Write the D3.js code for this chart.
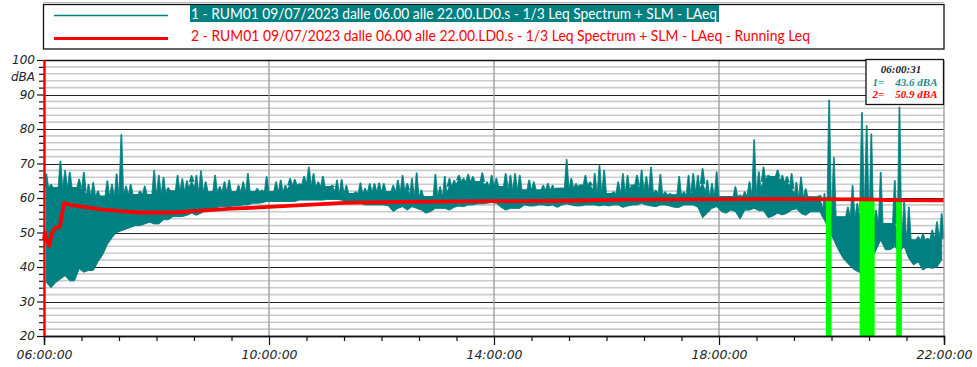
<!DOCTYPE html>
<html><head><meta charset="utf-8">
<script src="https://cdn.jsdelivr.net/npm/d3@7"></script>
<style>
html,body{margin:0;padding:0;background:#fff;}
svg{display:block;}
</style></head>
<body>
<svg id="chart" width="977" height="367"></svg>
<script>
// ---- data ----
// LAeq envelope per 5-minute interval, starting 06:00 (min / max dB(A))
const laeqHi = [
 67,64,63,70.7,68,67.5,63,65.5,67.5,64,64.5,62,60.5,65,64,67,78.4,63.5,64,61,62,63.5,61,68,66.6,66,63,62,66.6,65.6,65,66.5,
 66.6,67.9,64.7,61.8,66.6,63.3,64.7,65.2,61.8,63.7,64.7,67.1,61.8,62.8,62.3,66.2,61.8,64.7,65.2,63.7,65.7,65.4,64.2,66.3,69,67.1,64.7,66.3,63.3,63.7,65.2,65.4,
 63.7,61.3,61.8,64.4,62.8,64.2,64.2,64.4,64.2,61.8,63.7,65.2,66.6,64.2,65.7,67.3,62.3,60.4,60.4,66.9,63.3,66.3,65.7,65.2,66.6,65.7,66.9,66.2,64.7,67.3,64.7,66.6,
 65.7,63.3,67.1,66.6,67.1,66.6,62.3,65.2,64.7,62.3,63.7,64.2,63.7,62.8,62.8,71.2,65.7,64.2,63.7,66.6,64.7,67.1,69.5,68.1,61.3,61.8,64.7,67.1,66.6,63.7,66.6,68.1,
 66.2,69,62.3,66.9,61.8,61.3,60.9,66.3,61.8,66.6,67.1,66.6,68.6,65.2,64.2,67.6,60.4,60.4,60.4,63.3,60.9,61.8,64.7,76.9,67.6,69,66.6,66.2,68.1,66.6,66.2,67.1,
 64.6,66.1,62.7,60.3,60.3,60.8,61.3,88.4,71.8,54.5,54.5,57.4,63.7,58.4,84.8,81,78.6,56.4,67.5,52.6,52.6,65.1,86.4,59.3,57.4,47.8,48.8,49.7,48.3,50.7,53.1,55.5
];
const laeqLo = [
 35.5,34,35.5,36.5,37.5,36,36,39.5,38.5,39,39,41.5,43.5,46.5,48.5,50,50.5,51,51.5,52,52,52.5,53,52.5,52.5,53.7,53.7,54.6,54.6,54.6,55,55.6,
 55,55.6,56.5,57,57,57.5,57.5,57.5,57.7,57.7,58,58,58.5,58.5,58.6,59,59,59,59,59,59,59,59.4,59.4,59.4,59.4,59.4,59.4,59.6,59.6,59.6,59.4,
 58.9,58.9,58.7,58.5,58,58,58,58,58,57.7,56.1,57,57.5,56.5,57.5,57,56.5,55.6,56.1,57,57,57,56.5,57.3,57.7,57.5,58,58,58.3,58.3,58.5,58.7,
 58.5,57.3,56.5,57,57,57,58,57.7,57.7,58,58,57.7,58,57.3,58,58.3,58,57.7,57.7,58,58,58,57.7,58,57.7,58,58,57.3,57.7,58,58,58.5,
 58,57.7,57.5,58,58,57.7,57.3,57.3,58,58,58,57.3,54.3,55.6,57,57.5,56.1,55.6,56.5,56.1,53.9,56.5,56.5,57,56.3,56.3,54.3,54.8,55.6,55.1,55.6,56.5,
 56.9,55.5,55,56,56,56,53.6,50.7,47.8,44.9,42.5,41,39.6,38.7,38.2,39.1,42,44.9,47.8,45,45,45.9,44.4,45.9,42.5,40.6,41.5,39.1,40,39.6,40,42
];
const intervalMin = 5;

// Running Leq (minutes after 06:00, dB(A))
const runTime = [0,1,3,5.7,8,11.7,17,19,21.3,28,42,60,85,100,140,160,200,240,280,320,380,480,560,620,700,800,880,900,960];
const runLeq  = [48,50,47.5,46.2,49.5,51.3,51.6,55,58.5,58.0,57.4,56.7,56.1,55.8,55.8,56.2,56.9,57.4,58.0,58.6,58.9,59.1,59.2,59.5,59.6,59.7,59.6,59.4,59.3];

// Excluded (masked) periods, minutes after 06:00
const maskStart = [834, 870, 909];
const maskEnd   = [840, 886, 915];

// Axis ticks
const xMajorMin = [0,240,480,720,960];
const xMajorLabels = ["06:00:00","10:00:00","14:00:00","18:00:00","22:00:00"];
const yMajor = [20,30,40,50,60,70,80,90,100];
const yUnit = "dBA";

// Legend / cursor texts
const seriesNames = [
 "1 - RUM01 09/07/2023 dalle 06.00 alle 22.00.LD0.s - 1/3 Leq Spectrum + SLM - LAeq",
 "2 - RUM01 09/07/2023 dalle 06.00 alle 22.00.LD0.s - 1/3 Leq Spectrum + SLM - LAeq - Running Leq"
];
const cursorTime = "06:00:31";
const cursorMin = 31/60;
const cursorVals = ["43.6 dBA","50.9 dBA"];

// ---- drawing ----
const TEAL = "#008080", RED = "#ff0000", GREEN = "#00ff00";
const svg = d3.select("#chart");
const x = d3.scaleLinear().domain([0,960]).range([44,944]);
const y = d3.scaleLinear().domain([20,100]).range([336,60]);

// legend
const lg = svg.append("g");
lg.append("line").attr("x1",43).attr("x2",944).attr("y1",2.5).attr("y2",2.5).attr("stroke","#bbb");
lg.append("rect").attr("x",43.5).attr("y",4.5).attr("width",900.5).attr("height",44.5)
  .attr("fill","#fff").attr("stroke","#111").attr("stroke-width",1.3);
lg.append("line").attr("x1",54).attr("x2",168).attr("y1",15.5).attr("y2",15.5).attr("stroke",TEAL).attr("stroke-width",1.5);
lg.append("line").attr("x1",54).attr("x2",168).attr("y1",38.5).attr("y2",38.5).attr("stroke",RED).attr("stroke-width",3.2);
lg.append("rect").attr("x",190).attr("y",5).attr("width",529).attr("height",17).attr("fill",TEAL);
lg.append("text").attr("x",191).attr("y",18.5).text(seriesNames[0])
  .attr("font-family","Lato, 'Open Sans', sans-serif").attr("font-size",14.5).attr("fill","#fff")
  .attr("textLength",526).attr("lengthAdjust","spacingAndGlyphs");
lg.append("text").attr("x",191).attr("y",40.5).text(seriesNames[1])
  .attr("font-family","Lato, 'Open Sans', sans-serif").attr("font-size",14.5).attr("fill",RED)
  .attr("textLength",619).attr("lengthAdjust","spacingAndGlyphs");

// gridlines
const g = svg.append("g");
const yMinor = d3.range(22,100,2).filter(v=>v%10!==0);
g.selectAll(".ymin").data(yMinor).join("line")
  .attr("x1",x(0)).attr("x2",x(960)).attr("y1",d=>y(d)).attr("y2",d=>y(d))
  .attr("stroke","#cbcbcb").attr("stroke-width",1.6);
g.selectAll(".ymaj").data(yMajor.filter(v=>v>20&&v<100)).join("line")
  .attr("x1",x(0)).attr("x2",x(960)).attr("y1",d=>Math.round(y(d))+0.5).attr("y2",d=>Math.round(y(d))+0.5)
  .attr("stroke","#222").attr("stroke-width",1.1);
g.selectAll(".xg").data(xMajorMin.slice(1,-1)).join("line")
  .attr("x1",d=>x(d)).attr("x2",d=>x(d)).attr("y1",y(100)).attr("y2",y(20))
  .attr("stroke","#9a9a9a").attr("stroke-width",1.3);

// LAeq series: dense body (lo .. lowest max in a 7-interval window) plus a spike per interval (up to max)
const n = laeqHi.length;
const pts = laeqHi.map((h,i)=>{
  const w = laeqHi.slice(Math.max(0,i-3), Math.min(n,i+4));
  return {t:i*intervalMin+intervalMin/2, hi:h, lo:laeqLo[i], body:Math.max(laeqLo[i], Math.min(...w))};
});
const area = d3.area().x(d=>x(d.t)).y0(d=>y(d.lo)).y1(d=>y(d.body));
svg.append("path").datum(pts).attr("d",area).attr("fill",TEAL).attr("stroke",TEAL).attr("stroke-width",1);
svg.append("path")
  .attr("d",pts.map(d=>`M${x(d.t)-2.3},${y(d.body)}L${x(d.t)-0.4},${y(d.hi)}L${x(d.t)+0.4},${y(d.hi)}L${x(d.t)+2.3},${y(d.body)}Z`).join(""))
  .attr("fill",TEAL).attr("stroke",TEAL).attr("stroke-width",0.8).attr("stroke-linejoin","round");

// masked periods
const clipTop = t => d3.scaleLinear().domain(runTime).range(runLeq)(t);
svg.selectAll(".mask").data(maskStart).join("rect")
  .attr("x",(d)=>x(d)).attr("width",(d,i)=>x(maskEnd[i])-x(d))
  .attr("y",(d,i)=>y(clipTop((d+maskEnd[i])/2)))
  .attr("height",(d,i)=>y(20)-y(clipTop((d+maskEnd[i])/2)))
  .attr("fill",GREEN);

// running Leq
const run = runTime.map((t,i)=>({t, v:runLeq[i]}));
svg.append("path").datum(run)
  .attr("d",d3.line().x(d=>x(d.t)).y(d=>y(d.v)))
  .attr("fill","none").attr("stroke",RED).attr("stroke-width",3.8).attr("stroke-linejoin","round");

// frame
svg.append("line").attr("x1",x(0)).attr("x2",x(960)).attr("y1",y(100)+0.5).attr("y2",y(100)+0.5).attr("stroke","#111").attr("stroke-width",1.3);
svg.append("line").attr("x1",x(960)).attr("x2",x(960)).attr("y1",y(100)).attr("y2",y(20)).attr("stroke","#999").attr("stroke-width",1.3);

// axes
const fontAx = "'DejaVu Sans', Verdana, sans-serif";
const xMinor = d3.range(40,960,40).filter(v=>v%240!==0);
const xMinAx = svg.append("g").attr("transform",`translate(0,${y(20)})`)
  .call(d3.axisBottom(x).tickValues(xMinor).tickSize(5).tickFormat(""));
const xMajAx = svg.append("g").attr("transform",`translate(0,${y(20)})`)
  .call(d3.axisBottom(x).tickValues(xMajorMin).tickSize(9).tickPadding(5).tickFormat((d,i)=>xMajorLabels[i]));
[xMinAx,xMajAx].forEach(a=>{a.select(".domain").attr("stroke","#111").attr("stroke-width",1.3);
  a.selectAll(".tick line").attr("stroke","#111").attr("stroke-width",1.2);});
xMajAx.selectAll("text").attr("font-family",fontAx).attr("font-style","italic").attr("font-size",12.5).attr("fill","#222");

const yMinAx = svg.append("g").attr("transform",`translate(${x(0)},0)`)
  .call(d3.axisLeft(y).tickValues(d3.range(22,100,2).filter(v=>v%10!==0)).tickSize(5).tickFormat(""));
const yMajAx = svg.append("g").attr("transform",`translate(${x(0)},0)`)
  .call(d3.axisLeft(y).tickValues(yMajor).tickSize(7).tickPadding(2));
[yMinAx,yMajAx].forEach(a=>{a.select(".domain").remove();
  a.selectAll(".tick line").attr("stroke","#111").attr("stroke-width",1.2);});
yMajAx.selectAll("text").attr("font-family",fontAx).attr("font-style","italic").attr("font-size",12).attr("fill","#222");
svg.append("text").attr("x",35).attr("y",y(95)).attr("dy","0.35em").attr("text-anchor","end")
  .attr("font-family",fontAx).attr("font-style","italic").attr("font-size",12).attr("fill","#222").text(yUnit);

// cursor line
svg.append("line").attr("x1",x(cursorMin)).attr("x2",x(cursorMin)).attr("y1",y(100)).attr("y2",y(20))
  .attr("stroke",RED).attr("stroke-width",2.5);

// cursor box
const cb = svg.append("g");
cb.append("rect").attr("x",866).attr("y",59.5).attr("width",77.5).attr("height",45)
  .attr("fill","#fff").attr("stroke","#111").attr("stroke-width",1.3);
const serif = "'Liberation Serif','DejaVu Serif',serif";
cb.append("text").attr("x",901).attr("y",72.5).attr("text-anchor","middle").text(cursorTime)
  .attr("font-family",serif).attr("font-weight","bold").attr("font-style","italic").attr("font-size",11).attr("fill","#222");
[TEAL,RED].forEach((c,i)=>{
  cb.append("text").attr("x",872.5).attr("y",85.5+i*12).text((i+1)+"=")
    .attr("font-family",serif).attr("font-weight","bold").attr("font-style","italic").attr("font-size",11).attr("fill",c==TEAL?"#1a8f8f":c);
  cb.append("text").attr("x",937.5).attr("y",85.5+i*12).attr("text-anchor","end").text(cursorVals[i])
    .attr("font-family",serif).attr("font-weight","bold").attr("font-style","italic").attr("font-size",11).attr("fill",c==TEAL?"#1a8f8f":c);
});
</script>
</body></html>
